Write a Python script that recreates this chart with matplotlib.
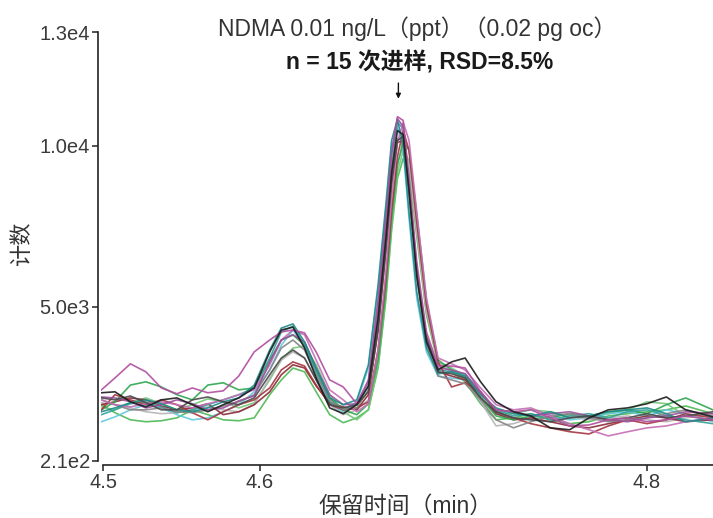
import numpy as np
import matplotlib
matplotlib.use("Agg")
import matplotlib.pyplot as plt

plt.rcParams['font.family'] = ['Liberation Sans', 'Noto Sans CJK SC']

# retention time grid (min), shared by all 15 injections
time_min = [4.518, 4.525, 4.533, 4.541, 4.549, 4.557, 4.565, 4.573, 4.581, 4.589,
            4.597, 4.605, 4.611, 4.617, 4.623, 4.629, 4.636, 4.643, 4.650, 4.656,
            4.661, 4.665, 4.668, 4.671, 4.674, 4.677, 4.681, 4.686, 4.692, 4.699,
            4.706, 4.714, 4.722, 4.731, 4.740, 4.750, 4.760, 4.770, 4.780, 4.790,
            4.800, 4.810, 4.820, 4.834]

# counts for each injection
magenta1 = [2420, 2790, 3230, 2980, 2480, 2300, 2480, 2330, 2390, 2850, 3600, 3970, 4220, 4280, 4190,
            3600, 2730, 2510, 1990, 2670, 5060, 7630, 9710, 10910, 10790, 8990, 6390, 4220, 3160, 3160,
            3100, 2360, 1800, 1740, 1800, 1550, 1300, 1330, 1490, 1550, 1430, 1490, 1610, 1490]
teal1 = [1740, 1860, 2020, 2110, 1990, 1800, 1740, 1860, 2050, 2170, 2570, 3660, 4340, 4470, 3910,
         3100, 2170, 1960, 2110, 3200, 5680, 8160, 10170, 10820, 10010, 7940, 5460, 3720, 2920, 2980,
         2850, 2260, 1860, 1680, 1610, 1740, 1550, 1610, 1740, 1800, 1860, 1680, 1430, 1550]
teal2 = [1650, 1800, 1990, 2050, 1890, 1710, 1800, 1960, 2110, 2270, 2480, 3410, 4220, 4400, 3810,
         2980, 2050, 1800, 1960, 2540, 4780, 7320, 9360, 10730, 10540, 8740, 6080, 3970, 3040, 2980,
         2920, 2360, 1800, 1610, 1680, 1490, 1610, 1680, 1550, 1740, 1800, 1610, 1490, 1370]
cyan = [1430, 1580, 1800, 1960, 1860, 1650, 1490, 1550, 1740, 1960, 2360, 3040, 3810, 4280, 3780,
        2890, 1960, 1740, 2050, 3100, 5520, 8000, 9980, 10600, 9860, 7750, 5270, 3600, 2850, 2790,
        2730, 2170, 1680, 1550, 1490, 1610, 1490, 1550, 1680, 1740, 1610, 1800, 1680, 1430]
black1 = [2330, 2360, 2050, 1890, 2110, 2170, 1960, 1740, 1960, 2170, 2480, 3600, 4280, 4370, 3720,
          2790, 1860, 1680, 1960, 2540, 4650, 7130, 9180, 10480, 10350, 8620, 5950, 3910, 3040, 3290,
          3410, 2670, 2050, 1740, 1610, 1240, 1180, 1550, 1800, 1860, 1990, 2200, 1800, 1580]
black2 = [2170, 2110, 2230, 2020, 1800, 1800, 2110, 2200, 2050, 1960, 2170, 2890, 3410, 3660, 3410,
          2730, 1960, 1860, 1960, 2360, 4280, 6760, 8870, 10170, 10290, 8680, 6200, 4030, 2980, 2920,
          2790, 2170, 1740, 1550, 1490, 1430, 1550, 1610, 1490, 1550, 1680, 1550, 1610, 1740]
gray1 = [2110, 1960, 1800, 1800, 1860, 1740, 1710, 1800, 1920, 2050, 2270, 3040, 3720, 3970, 3660,
         2890, 2110, 1800, 1860, 2420, 4530, 7010, 9050, 10230, 10170, 8500, 5950, 3850, 2850, 2730,
         2610, 2110, 1490, 1240, 1430, 1610, 1680, 1550, 1430, 1490, 1550, 1680, 1800, 1610]
gray2 = [2020, 1960, 1860, 1740, 1680, 1710, 1800, 1890, 1800, 1740, 1960, 2790, 3350, 3600, 3410,
         2730, 1960, 1650, 1800, 2110, 3600, 5710, 7880, 9490, 9980, 9490, 7320, 4840, 3290, 2980,
         2730, 2050, 1300, 1370, 1550, 1680, 1610, 1490, 1550, 1610, 1490, 1430, 1550, 1680]
green1 = [1960, 1710, 1490, 1430, 1460, 1550, 1800, 1650, 1490, 1460, 1550, 2270, 2730, 3100, 2980,
          2360, 1650, 1400, 1550, 1800, 3100, 5210, 7380, 8990, 9610, 9240, 7190, 4750, 3230, 2980,
          2670, 1990, 1490, 1550, 1680, 1490, 1370, 1430, 1610, 1680, 1740, 1800, 1920, 1680]
green2 = [1800, 2050, 2570, 2670, 2510, 2270, 2110, 2570, 2640, 2420, 2480, 3350, 3970, 4130, 3810,
          3040, 2170, 1800, 1650, 1990, 3350, 5520, 7750, 9400, 10170, 9860, 7880, 5210, 3350, 3040,
          2790, 2170, 1610, 1490, 1610, 1550, 1680, 1610, 1740, 1800, 1680, 1960, 2170, 1800]
green3 = [1890, 1800, 2020, 2170, 1990, 1800, 1960, 2140, 2050, 1860, 2020, 2730, 3350, 3720, 3780,
          3200, 2270, 1740, 1490, 1800, 3160, 5330, 7500, 9180, 9860, 9550, 7500, 5020, 3290, 3100,
          2850, 2300, 1740, 1680, 1800, 1740, 1610, 1550, 1680, 1800, 2050, 1990, 1610, 1490]
darkred1 = [1800, 2270, 2110, 1960, 2110, 1960, 1710, 1490, 1740, 1960, 2110, 2480, 3040, 3290, 3160,
            2570, 1960, 1800, 1860, 2050, 3660, 5830, 8000, 9670, 10480, 9860, 7630, 5060, 3290, 2510,
            2640, 2360, 1740, 1550, 1370, 1240, 1120, 1050, 1300, 1490, 1370, 1490, 1680, 1550]
darkred2 = [1960, 2050, 2170, 2110, 1920, 1800, 1860, 1990, 1650, 1740, 1960, 2360, 2890, 3200, 3100,
            2540, 2020, 1890, 1800, 2270, 4280, 6760, 8870, 10110, 10170, 8560, 6080, 3970, 2980, 2850,
            2730, 2170, 1680, 1490, 1550, 1430, 1300, 1240, 1370, 1490, 1610, 1550, 1430, 1490]
magenta2 = [2110, 1960, 1890, 1990, 2050, 1960, 1860, 1990, 2110, 2270, 2420, 3200, 3970, 4280, 4130,
            3350, 2420, 2110, 1740, 1990, 3660, 6080, 8370, 10110, 10730, 10170, 7940, 5270, 3410, 3230,
            3040, 2480, 1960, 1800, 1860, 1610, 1370, 1180, 990, 1120, 1240, 1300, 1430, 1550]
purple = [2200, 2170, 2050, 1860, 1960, 2110, 1990, 1800, 1860, 2080, 2230, 3290, 3970, 4130, 3910,
          3100, 2270, 1960, 1990, 2730, 5210, 7750, 9800, 10850, 10600, 8810, 6200, 4090, 3100, 3040,
          2920, 2300, 1800, 1740, 1610, 1680, 1740, 1610, 1490, 1430, 1550, 1610, 1740, 1680]

series = [
    (green1, '#4cb852'), (green3, '#72c878'), (cyan, '#62c9e0'), (gray2, '#b5b5b5'),
    (darkred2, '#8a2a36'), (green2, '#2ea64e'), (teal2, '#36a39d'), (darkred1, '#a5343f'),
    (gray1, '#858585'), (magenta2, '#c46db5'), (purple, '#9c4f9d'), (teal1, '#1f8c8a'),
    (black2, '#4a4a4a'), (magenta1, '#b24ea0'), (black1, '#1c1c1c'),
]

y_ticks = [210, 5000, 10000, 13540]
y_ticklabels = ['2.1e2', '5.0e3', '1.0e4', '1.3e4']
x_ticks = [4.519, 4.6, 4.8]
x_ticklabels = ['4.5', '4.6', '4.8']

fig = plt.figure(figsize=(7.13, 5.18), dpi=100)
ax = fig.add_axes([101 / 713, 57 / 518, 612 / 713, 429 / 518])

for vals, col in series:
    ax.plot(time_min, vals, color=col, lw=1.2, alpha=0.9, solid_joinstyle='round')

ax.set_xlim(4.5178, 4.8341)
ax.set_ylim(210, 13540)

ax.set_yticks(y_ticks)
ax.set_yticklabels(y_ticklabels)
ax.set_xticks(x_ticks)
ax.set_xticklabels(x_ticklabels)

for s in ['top', 'right']:
    ax.spines[s].set_visible(False)
ax.spines['left'].set_position(('outward', 2))
ax.spines['bottom'].set_position(('outward', 3))
ax.spines['bottom'].set_bounds(4.519, 4.8341)
for s in ['left', 'bottom']:
    ax.spines[s].set_linewidth(1.2)
    ax.spines[s].set_color('#222222')

ax.tick_params(axis='both', direction='out', length=4, width=1.1, color='#222222',
               labelsize=14.5, labelcolor='#3a3a3a', pad=2)

# annotation text and arrow
fig.text(0.585, 0.944, 'NDMA 0.01 ng/L\uff08ppt\uff09\uff080.02 pg oc\uff09',
         ha='center', va='center', fontsize=16.5, color='#333333')
fig.text(0.588, 0.878, 'n = 15 次进样, RSD=8.5%', ha='center', va='center',
         fontsize=16.5, fontweight='bold', color='#1a1a1a')
ax.annotate('', xy=(4.6715, 11380), xytext=(4.6715, 12040),
            arrowprops=dict(arrowstyle='-|>', color='#111111', lw=1.0,
                            mutation_scale=7), annotation_clip=False)

fig.text(0.569, 0.022, '保留时间\uff08min\uff09', ha='center', va='center',
         fontsize=16.5, color='#333333')
fig.text(0.031, 0.531, '计数', ha='center', va='center', rotation=90,
         fontsize=16, color='#333333')

fig.savefig('out.png', dpi=100)
